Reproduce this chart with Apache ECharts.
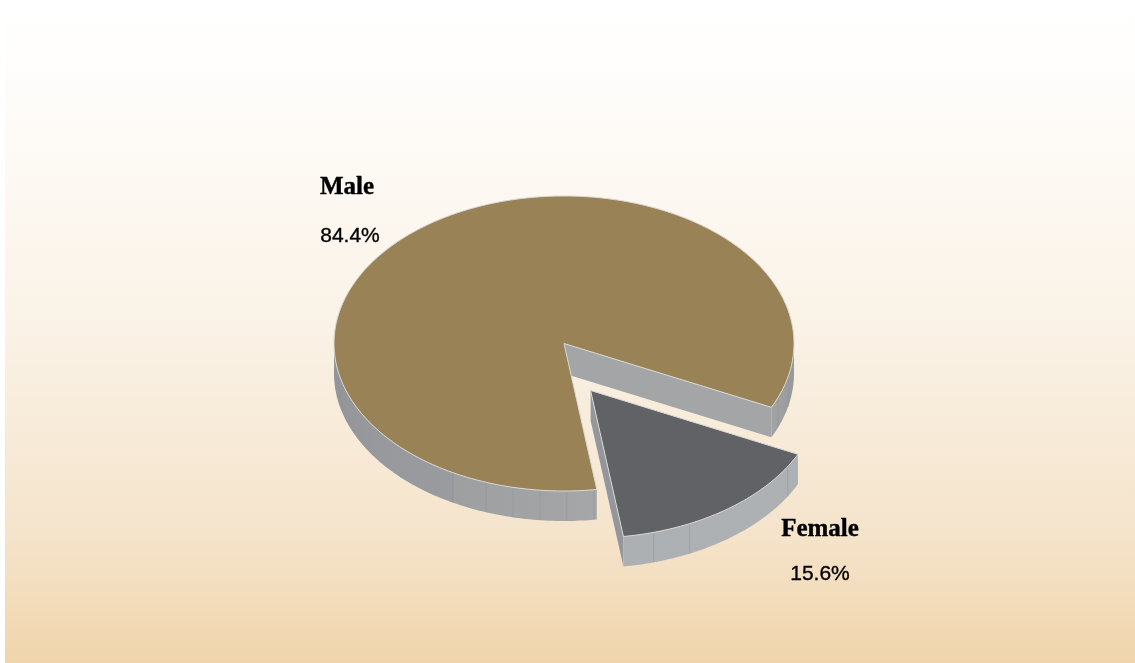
<!DOCTYPE html>
<html>
<head>
<meta charset="utf-8">
<title>Male and female share</title>
<style>html,body{margin:0;padding:0;background:#fff}#chart{width:1135px;height:663px}</style>
<script src="https://cdn.jsdelivr.net/npm/echarts@6/dist/echarts.min.js"></script>
</head>
<body>
<div id="chart"></div>
<script>
// Values of the two slices, in percent
const categories = ['Male', 'Female'];
const shares = [84.4, 15.6];

// Seam lines on each slice's rim, as angles in degrees around the disc
const rimSeamsMale = [118.9, 109.8, 102.8, 96, 89.3, 82.5, 21.5, 13];
const rimSeamsFemale = [74.1, 64.5, 31];

// Disc geometry and palette
const CX = 564, CY = 343.5, RX = 230, RY = 147.5, DEPTH = 30;
const START_ANGLE = 81.8;           // Male starts here and runs round to Female
const PULL_OUT = [[0, 0], [26.6, 47]]; // offset of each slice from the disc centre
const TOP_COLORS = ['#998256', '#616265'];
const EDGE = '#d9d9d6';
const LABELS = [
  { x: 347, nameY: 188, valueY: 236 },
  { x: 820, nameY: 530, valueY: 574 }
];

const rad = d => d * Math.PI / 180;
const at = (deg, dx, dy) => [CX + dx + RX * Math.cos(rad(deg)), CY + dy + RY * Math.sin(rad(deg))];

// Sweep of every slice, derived from its share
function sweeps() {
  const total = shares.reduce((a, b) => a + b, 0);
  let a = START_ANGLE;
  return shares.map(v => {
    const s = [a, a + v / total * 360];
    a = s[1];
    return s;
  });
}

function arcPoints(from, to, dx, dy) {
  const n = Math.max(2, Math.ceil(Math.abs(to - from)));
  const pts = [];
  for (let i = 0; i <= n; i++) pts.push(at(from + (to - from) * i / n, dx, dy));
  return pts;
}

// Parts of a sweep that face the viewer (lower half of the ellipse)
function frontSpans(from, to) {
  const spans = [];
  for (let k = 0; k < 2; k++) {
    const lo = Math.max(from, k * 360), hi = Math.min(to, k * 360 + 180);
    if (hi > lo) spans.push([lo, hi]);
  }
  return spans;
}

function poly(points, fill, stroke, lineWidth) {
  return { type: 'polygon', shape: { points }, style: { fill, stroke: stroke || null, lineWidth: lineWidth || 0 } };
}

function xGradient(x0, x1, stops) {
  return {
    type: 'linear', global: true, x: x0, y: 0, x2: x1, y2: 0,
    colorStops: stops.map(s => ({ offset: s[0], color: s[1] }))
  };
}

const rimFill = [
  xGradient(334, 794, [[0, '#949599'], [0.1, '#98999d'], [0.26, '#9a9b9e'], [0.262, '#9e9fa1'],
    [0.57, '#a5a6a8'], [0.95, '#a3a4a6'], [1, '#98999d']]),
  xGradient(625, 797, [[0, '#adb0b3'], [1, '#aeb1b4']])
];
const cutFill = ['#a4a5a7', '#94969b'];

function renderSlice(params, api) {
  const i = params.dataIndex;
  const [from, to] = sweeps()[i];
  const [dx, dy] = PULL_OUT[i];
  const apex = [CX + dx, CY + dy];
  const kids = [];
  const down = p => [p[0], p[1] + DEPTH];

  // Visible cut face of the slice
  const cutEnd = at(to, dx, dy);
  kids.push(poly([apex, cutEnd, down(cutEnd), down(apex)], cutFill[i]));

  // Outer rim and its seam lines
  frontSpans(from, to).forEach(([a, b]) => {
    const top = arcPoints(a, b, dx, dy);
    kids.push(poly(top.concat(top.slice().reverse().map(down)), rimFill[i]));
  });
  (i === 0 ? rimSeamsMale : rimSeamsFemale).forEach(deg => {
    const p = at(deg, dx, dy);
    kids.push({
      type: 'line',
      shape: { x1: p[0], y1: p[1], x2: p[0], y2: p[1] + DEPTH },
      style: { stroke: '#8e8f90', lineWidth: 1, opacity: 0.45 }
    });
  });

  // Top face
  kids.push(poly([apex].concat(arcPoints(from, to, dx, dy)), TOP_COLORS[i], EDGE, 1));

  // Name and percentage
  const pos = LABELS[i];
  kids.push({
    type: 'text',
    style: {
      x: pos.x, y: pos.nameY, text: api.value(1), fill: '#000', stroke: '#000', lineWidth: 0.4,
      font: 'bold 25px "Liberation Serif"', align: 'center', verticalAlign: 'middle'
    }
  });
  kids.push({
    type: 'text',
    style: {
      x: pos.x + (i === 0 ? 3 : 0), y: pos.valueY, text: api.value(0).toFixed(1) + '%', fill: '#000', stroke: '#000', lineWidth: 0.35,
      font: '21px "Liberation Sans"', align: 'center', verticalAlign: 'middle'
    }
  });
  return { type: 'group', children: kids };
}

const chart = echarts.init(document.getElementById('chart'), null, { renderer: 'canvas' });
chart.setOption({
  animation: false,
  backgroundColor: '#ffffff',
  graphic: [{
    type: 'rect', z: -10, silent: true,
    shape: { x: 5, y: 0, width: 1130, height: 663 },
    style: {
      fill: {
        type: 'linear', x: 0, y: 0, x2: 0, y2: 1,
        colorStops: [
          { offset: 0, color: '#ffffff' },
          { offset: 0.08, color: '#fffefd' },
          { offset: 0.5, color: '#faf2e6' },
          { offset: 0.8, color: '#f5e4cc' },
          { offset: 1, color: '#f0d5ac' }
        ]
      }
    }
  }],
  series: [{
    type: 'custom',
    coordinateSystem: 'none',
    renderItem: renderSlice,
    dimensions: ['value', { name: 'name', type: 'ordinal' }],
    encode: { value: 0 },
    data: categories.map((name, i) => [shares[i], name])
  }]
});
</script>
</body>
</html>
